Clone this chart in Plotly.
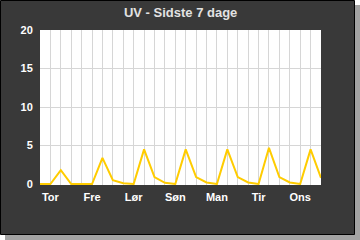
import plotly.graph_objects as go

# Data: UV index every 6 hours over the last 7 days
day_labels = ["Tor", "Fre", "Lør", "Søn", "Man", "Tir", "Ons"]
day_tick_index = [1, 5, 9, 13, 17, 21, 25]
uv_values = [0, 0, 1.8, 0, 0, 0, 3.4, 0.5, 0.1, 0, 4.5, 0.9, 0.15, 0,
             4.5, 0.9, 0.2, 0, 4.5, 0.9, 0.2, 0, 4.7, 0.9, 0.2, 0, 4.5, 0.8]
y_ticks = [0, 5, 10, 15, 20]
x_index = list(range(len(uv_values)))

W, H = 360, 240
L, R, T, B = 40, 39, 30, 55
PW, PH = W - L - R, H - T - B


def px(x):
    return (x - L) / PW


def py(y):
    return (H - B - y) / PH


DARK = "#393939"

fig = go.Figure()
fig.add_trace(go.Scatter(
    x=x_index, y=uv_values, mode="lines",
    line=dict(color="#ffcc00", width=2),
    hoverinfo="skip", showlegend=False,
))

shapes = [
    dict(type="rect", xref="paper", yref="paper", layer="below",
         x0=px(5), x1=px(360), y0=py(240), y1=py(5),
         fillcolor="#a3a3a3", line=dict(width=0)),
    dict(type="rect", xref="paper", yref="paper", layer="below",
         x0=px(0.5), x1=px(354.5), y0=py(234.5), y1=py(0.5),
         fillcolor=DARK, line=dict(color="#000000", width=1)),
    dict(type="rect", xref="paper", yref="paper", layer="below",
         x0=0, x1=1, y0=0, y1=1,
         fillcolor="#ffffff", line=dict(width=0)),
]

fig.update_layout(
    width=W, height=H,
    margin=dict(l=L, r=R, t=T, b=B, pad=0),
    paper_bgcolor="#ffffff",
    plot_bgcolor="rgba(0,0,0,0)",
    shapes=shapes,
    title=dict(text="UV - Sidste 7 dage", x=px(181), xanchor="center",
               y=1 - 12 / H, yanchor="middle",
               font=dict(family="Liberation Sans, Arial", size=13,
                         color="#e2e2e2", weight="bold")),
    font=dict(family="Liberation Sans, Arial", size=11, color="#ffffff"),
    xaxis=dict(
        range=[0, len(uv_values) - 1],
        tickmode="array", tickvals=day_tick_index, ticktext=day_labels,
        tickfont=dict(size=11, color="#ffffff", weight="bold"),
        ticks="outside", ticklen=2, tickcolor=DARK,
        showgrid=True, gridcolor="#d6d6d6", gridwidth=1,
        minor=dict(tick0=0, dtick=1, showgrid=True, gridcolor="#d6d6d6",
                   gridwidth=1, ticks=""),
        zeroline=False, showline=False, fixedrange=True,
    ),
    yaxis=dict(
        range=[-0.13, 20],
        tickmode="array", tickvals=y_ticks,
        tickfont=dict(size=11, color="#ffffff", weight="bold"),
        ticks="outside", ticklen=4, tickcolor=DARK,
        showgrid=True, gridcolor="#d6d6d6", gridwidth=1,
        zeroline=False, showline=False, fixedrange=True,
    ),
)

fig.write_html("out.html", config={"displayModeBar": False})
